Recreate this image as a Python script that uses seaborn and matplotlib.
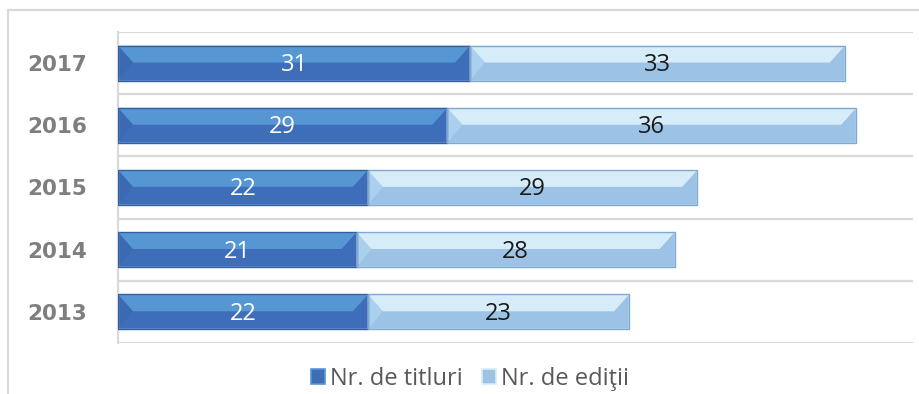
import numpy as np
import pandas as pd
import matplotlib
matplotlib.use("Agg")
import matplotlib.pyplot as plt
from matplotlib.patches import Polygon, Rectangle, Patch
from matplotlib.lines import Line2D
import seaborn as sns

# Data
years = ["2017", "2016", "2015", "2014", "2013"]
titluri = [31, 29, 22, 21, 22]
editii = [33, 36, 29, 28, 23]
series_names = ["Nr. de titluri", "Nr. de ediţii"]

sns.set_theme(style="white")
plt.rcParams["font.family"] = ["Open Sans", "DejaVu Sans"]

DARK_BASE = "#3e6dba"
DARK_TOP = "#5596d3"
LIGHT_BASE = "#9cc3e6"
LIGHT_TOP = "#d6ecf8"
GRID = "#d9d9d9"

fig = plt.figure(figsize=(9.2, 3.94), dpi=100)
ax = fig.add_axes([118 / 920, 1 - 343 / 394, (913 - 118) / 920, (343 - 32) / 394])

df = pd.DataFrame({"year": years, "titluri": titluri, "editii": editii})

bar_h = 0.56
sns.barplot(data=df, x="titluri", y="year", order=years, color=DARK_BASE,
            width=bar_h, saturation=1, orient="h", ax=ax, zorder=3)
n_dark = len(ax.patches)
sns.barplot(data=df, x="editii", y="year", order=years, color=LIGHT_BASE,
            width=bar_h, saturation=1, orient="h", ax=ax, zorder=3)
dark_bars = ax.patches[:n_dark]
light_bars = ax.patches[n_dark:]

# stack the second series after the first one
for bar, left in zip(light_bars, titluri):
    bar.set_x(left)

ax.set_xlim(0, 70)
ax.set_ylim(len(years) - 0.5, -0.5)


def bevel(bar, top_color, edge_color, side_color):
    x0 = bar.get_x()
    w = bar.get_width()
    y0 = bar.get_y()
    h = bar.get_height()
    x1 = x0 + w
    # bevel depth in data units (about 15 px)
    d = 15 / 11.36
    top = y0            # y-axis is inverted: smaller y is visually higher
    mid = y0 + h * 0.48
    bot = y0 + h
    # lit upper face
    ax.add_patch(Polygon([(x0, top), (x1, top), (x1 - d, mid), (x0 + d, mid)],
                         closed=True, facecolor=top_color, edgecolor="none", zorder=4))
    # thin highlight band inside the lit face
    ax.add_patch(Polygon([(x0 + 0.3 * d, top + h * 0.14), (x1 - 0.3 * d, top + h * 0.14),
                          (x1 - d, mid), (x0 + d, mid)],
                         closed=True, facecolor=top_color, edgecolor="none",
                         alpha=0.6, zorder=4))
    # left face
    ax.add_patch(Polygon([(x0, top), (x0 + d, mid), (x0, bot)],
                         closed=True, facecolor=side_color, edgecolor="none",
                         alpha=0.55, zorder=4))
    # outline
    ax.add_patch(Rectangle((x0, y0), w, h, facecolor="none", edgecolor=edge_color,
                           lw=1.0, zorder=5))


for bar in dark_bars:
    bevel(bar, DARK_TOP, "#35609f", "#3a66b0")
for bar in light_bars:
    bevel(bar, LIGHT_TOP, "#7fa8d2", "#b9dcf3")

# value labels centred in each segment
for bar, v in zip(dark_bars, titluri):
    ax.text(bar.get_x() + bar.get_width() / 2, bar.get_y() + bar.get_height() / 2 + 0.03,
            f"{v}", ha="center", va="center", color="white", fontsize=17, zorder=6)
for bar, v in zip(light_bars, editii):
    ax.text(bar.get_x() + bar.get_width() / 2, bar.get_y() + bar.get_height() / 2 + 0.03,
            f"{v}", ha="center", va="center", color="#1a1a1a", fontsize=17, zorder=6)

# category boundary gridlines
for yb in np.arange(-0.5, len(years), 1.0):
    ax.axhline(yb, color=GRID, lw=1.6, zorder=1)

for s in ["top", "right", "bottom"]:
    ax.spines[s].set_visible(False)
ax.spines["left"].set_color(GRID)
ax.spines["left"].set_linewidth(1.6)

ax.set_xlabel("")
ax.set_ylabel("")
ax.set_xticks([])
ax.tick_params(axis="y", length=0, pad=22)
for lbl in ax.get_yticklabels():
    lbl.set_fontfamily("DejaVu Sans")
    lbl.set_fontweight("bold")
    lbl.set_fontsize(15.5)
    lbl.set_color("#7f7f7f")

# outer chart frame
fig.add_artist(Line2D([8 / 920, 8 / 920], [0, 1 - 10 / 394], transform=fig.transFigure,
                      color=GRID, lw=1.6))
fig.add_artist(Line2D([8 / 920, 1], [1 - 10 / 394, 1 - 10 / 394], transform=fig.transFigure,
                      color=GRID, lw=1.6))

handles = [Patch(facecolor=DARK_BASE, edgecolor="#5596d3", lw=1.2),
           Patch(facecolor=LIGHT_BASE, edgecolor="#d6ecf8", lw=1.2)]
leg = fig.legend(handles, series_names, loc="center", bbox_to_anchor=(470 / 920, 1 - 379 / 394),
                 ncol=2, frameon=False, fontsize=17, handlelength=0.6, handleheight=0.6,
                 handletextpad=0.2, columnspacing=0.8, borderpad=0)
for t in leg.get_texts():
    t.set_color("#595959")

fig.savefig("out.png", dpi=100)
